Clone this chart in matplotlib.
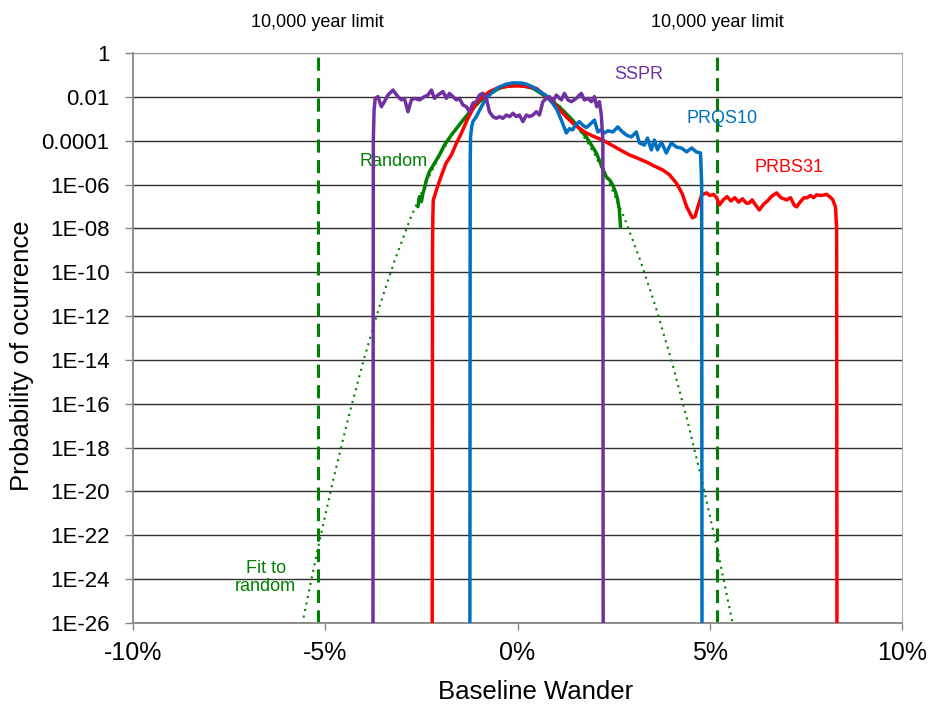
import numpy as np
import matplotlib as mpl
mpl.use('Agg')
import matplotlib.pyplot as plt
import matplotlib.transforms as mtransforms

plt.rcParams['font.family'] = ['Liberation Sans', 'DejaVu Sans']

# baseline wander in %, probability as log10 exponent
sspr_x = [-3.76, -3.75, -3.73, -3.70, -3.63, -3.54, -3.46, -3.37, -3.24, -3.11,
          -3.02, -2.94, -2.85, -2.76, -2.68, -2.55, -2.42, -2.33, -2.24, -2.16,
          -2.07, -1.94, -1.85, -1.77, -1.68, -1.59, -1.51, -1.42, -1.33, -1.25,
          -1.16, -1.07, -0.99, -0.90, -0.81, -0.73, -0.64, -0.55, -0.47, -0.38,
          -0.29, -0.20, -0.12, -0.03, 0.05, 0.14, 0.23, 0.31, 0.40, 0.49,
          0.57, 0.66, 0.75, 0.83, 0.92, 1.01, 1.14, 1.22, 1.31, 1.40,
          1.53, 1.66, 1.74, 1.83, 1.92, 2.00, 2.06, 2.13, 2.18, 2.22, 2.23]
sspr_log = [-30, -4.0, -2.6, -2.07, -1.99, -2.45, -2.22, -1.92, -1.69, -1.99,
            -2.14, -2.07, -2.68, -2.14, -2.07, -2.14, -1.99, -1.92, -1.69, -2.07,
            -1.92, -1.76, -2.07, -1.84, -1.99, -2.14, -2.07, -2.37, -2.45, -2.68,
            -2.29, -2.22, -1.92, -1.84, -2.07, -2.68, -2.90, -2.98, -2.90, -2.98,
            -2.83, -2.90, -2.75, -2.90, -2.83, -3.13, -2.83, -2.90, -2.83, -2.68,
            -2.83, -2.22, -2.07, -1.99, -2.22, -1.92, -2.14, -1.84, -2.14, -2.22,
            -2.07, -1.84, -2.14, -2.07, -2.22, -1.99, -2.45, -2.22, -2.83, -4.0, -30]

prqs_x = [-1.24, -1.23, -1.22, -1.19, -1.16, -1.07, -0.94, -0.81, -0.64, -0.47,
          -0.29, -0.10, 0.10, 0.23, 0.40, 0.57, 0.75, 0.91, 1.03, 1.14,
          1.27, 1.35, 1.43, 1.52, 1.61, 1.70, 1.79, 1.87, 2.00, 2.09,
          2.17, 2.26, 2.35, 2.48, 2.61, 2.70, 2.83, 2.96, 3.09, 3.17,
          3.30, 3.38, 3.48, 3.56, 3.64, 3.74, 3.87, 4.00, 4.13, 4.26,
          4.40, 4.53, 4.65, 4.76, 4.79, 4.80]
prqs_log = [-30, -5.0, -3.8, -3.35, -3.13, -2.90, -2.45, -2.07, -1.76, -1.55,
            -1.42, -1.36, -1.37, -1.42, -1.55, -1.75, -1.95, -2.28, -2.60, -3.06,
            -3.65, -3.45, -3.51, -3.25, -3.13, -3.30, -3.40, -3.28, -3.06, -3.60,
            -3.50, -3.65, -3.55, -3.60, -3.37, -3.55, -3.74, -3.83, -3.60, -4.10,
            -4.20, -3.88, -4.42, -3.97, -4.42, -4.06, -4.56, -4.10, -4.29, -4.33,
            -4.51, -4.33, -4.51, -4.56, -6.0, -30]

prbs_x = [-2.22, -2.21, -2.20, -2.19, -2.08, -1.99, -1.86, -1.72, -1.59, -1.46,
          -1.33, -1.20, -1.07, -0.90, -0.73, -0.50, -0.25, 0.00, 0.25, 0.50,
          0.75, 1.00, 1.27, 1.50, 1.79, 2.00, 2.21, 2.50, 2.70, 2.91,
          3.10, 3.35, 3.55, 3.77, 3.95, 4.13, 4.28, 4.40, 4.55, 4.62,
          4.69, 4.79, 4.92, 5.00, 5.10, 5.18, 5.25, 5.35, 5.45, 5.55,
          5.65, 5.75, 5.85, 5.95, 6.03, 6.10, 6.20, 6.29, 6.40, 6.50,
          6.60, 6.74, 6.85, 7.00, 7.10, 7.20, 7.26, 7.35, 7.45, 7.52,
          7.62, 7.70, 7.78, 7.90, 8.04, 8.15, 8.20, 8.27, 8.30, 8.31]
prbs_log = [-30, -9.0, -7.3, -6.7, -6.1, -5.64, -5.03, -4.65, -4.12, -3.66,
            -3.13, -2.68, -2.29, -1.99, -1.76, -1.58, -1.52, -1.50, -1.53, -1.62,
            -2.00, -2.40, -2.92, -3.30, -3.65, -3.82, -3.97, -4.25, -4.45, -4.65,
            -4.78, -4.97, -5.15, -5.33, -5.55, -5.93, -6.40, -7.02, -7.52, -7.45,
            -7.02, -6.47, -6.38, -6.50, -6.45, -6.60, -6.93, -6.70, -6.55, -6.75,
            -6.60, -6.80, -6.65, -6.85, -6.84, -6.70, -6.95, -7.16, -6.90, -6.75,
            -6.55, -6.38, -6.60, -6.70, -6.60, -6.95, -7.02, -6.80, -6.60, -6.61,
            -6.50, -6.60, -6.47, -6.50, -6.45, -6.60, -6.70, -7.02, -8.0, -30]

random_x = [-2.59, -2.55, -2.50, -2.46, -2.42, -2.37, -2.29, -2.16, -2.03, -1.90,
            -1.72, -1.55, -1.38, -1.20, -0.99, -0.77, -0.47, -0.20, 0.05, 0.39,
            0.75, 1.09, 1.43, 1.61, 1.79, 2.05, 2.21, 2.31, 2.40, 2.47,
            2.55, 2.60, 2.65, 2.68]
random_log = [-7.01, -6.55, -6.78, -6.40, -6.17, -5.79, -5.41, -5.03, -4.65, -4.20,
              -3.74, -3.36, -2.98, -2.60, -2.22, -1.92, -1.60, -1.47, -1.46, -1.60,
              -2.00, -2.46, -3.06, -3.45, -3.83, -4.56, -5.25, -5.65, -5.80, -6.00,
              -6.35, -6.65, -7.16, -7.95]

fit_x = [-5.6, -5.2, -4.8, -4.4, -4.0, -3.6, -3.2, -2.8, -2.4, -2.0, -1.6, -1.2, -0.8, -0.4,
         0.0, 0.4, 0.8, 1.2, 1.6, 2.0, 2.4, 2.8, 3.2, 3.6, 4.0, 4.4, 4.8, 5.2, 5.6]
fit_log = [-26.05, -22.66, -19.52, -16.64, -14.0, -11.62, -9.49, -7.61, -5.98, -4.60,
           -3.47, -2.59, -1.96, -1.59, -1.46, -1.59, -1.96, -2.59, -3.47, -4.60,
           -5.98, -7.61, -9.49, -11.62, -14.0, -16.64, -19.52, -22.66, -26.05]

limit_x = [-5.2, 5.2]

y_tick_labels = ['1', '0.01', '0.0001', '1E-06', '1E-08', '1E-10', '1E-12', '1E-14',
                 '1E-16', '1E-18', '1E-20', '1E-22', '1E-24', '1E-26']
x_ticks = [-10, -5, 0, 5, 10]
x_tick_labels = ['-10%', '-5%', '0%', '5%', '10%']

purple = '#7030A0'
blue = '#0070C0'
red = '#FF0000'
green = '#008000'

fig = plt.figure(figsize=(9.31, 7.05), dpi=100)
ax = fig.add_axes([133/931, 82/705, 769/931, 570/705])
ax.set_yscale('log')

ax.plot(fit_x, 10.0 ** np.array(fit_log), color=green, lw=1.5,
        linestyle=(0, (1, 2.2)), zorder=2)
for lx in limit_x:
    ax.axvline(lx, color=green, lw=2.2, linestyle=(0, (4.3, 2.4)), zorder=2.5)
line_kw = dict(lw=2.5, solid_joinstyle='round', solid_capstyle='round')
ax.plot(random_x, 10.0 ** np.array(random_log), color=green, zorder=3, **line_kw)
ax.plot(prbs_x, 10.0 ** np.array(prbs_log), color=red, zorder=4, **line_kw)
ax.plot(prqs_x, 10.0 ** np.array(prqs_log), color=blue, zorder=5, **line_kw)
ax.plot(sspr_x, 10.0 ** np.array(sspr_log), color=purple, zorder=6, **line_kw)

ax.set_xlim(-10, 10)
ax.set_ylim(1e-26, 1)
yt = [10.0 ** (-2 * i) for i in range(len(y_tick_labels))]
ax.set_yticks(yt)
ax.set_yticklabels(y_tick_labels)
ax.yaxis.set_minor_locator(mpl.ticker.NullLocator())
ax.set_xticks(x_ticks)
ax.set_xticklabels(x_tick_labels)

ax.tick_params(axis='y', direction='out', length=6, width=1, color='#868686',
               labelsize=16, pad=11)
ax.tick_params(axis='x', direction='out', length=5, width=1, color='#868686',
               labelsize=18, pad=8)

ax.grid(axis='y', color='#303030', lw=1.0)
ax.get_ygridlines()[0].set_color('#9a9a9a')
ax.grid(axis='x', visible=False)
for s in ['left', 'bottom']:
    ax.spines[s].set_color('#868686')
    ax.spines[s].set_linewidth(1.3)
ax.spines['right'].set_color('#b0b0b0')
ax.spines['top'].set_color('#9a9a9a')

# labels
ax.text(3.15, 10 ** -0.96, 'SSPR', color=purple, fontsize=13, ha='center', va='center')
ax.text(5.33, 10 ** -3.01, 'PRQS10', color=blue, fontsize=13, ha='center', va='center')
ax.text(7.07, 10 ** -5.24, 'PRBS31', color=red, fontsize=13, ha='center', va='center')
ax.text(-3.22, 10 ** -4.97, 'Random', color=green, fontsize=13, ha='center', va='center')
ax.text(-6.55, 10 ** -23.94, 'Fit to\nrandom', color=green, fontsize=13,
        ha='center', va='center', linespacing=1.1)

trans = mtransforms.blended_transform_factory(ax.transData, ax.transAxes)
for lx in limit_x:
    ax.text(lx, 1.054, '10,000 year limit', transform=trans, fontsize=13,
            ha='center', va='center')

fig.text(536/931, 1 - 692/705, 'Baseline Wander', fontsize=18.5, ha='center', va='center')
fig.text(22/931, 1 - 356/705, 'Probability of ocurrence', fontsize=18.5,
         rotation=90, ha='center', va='center')

fig.savefig('out.png', dpi=100)
